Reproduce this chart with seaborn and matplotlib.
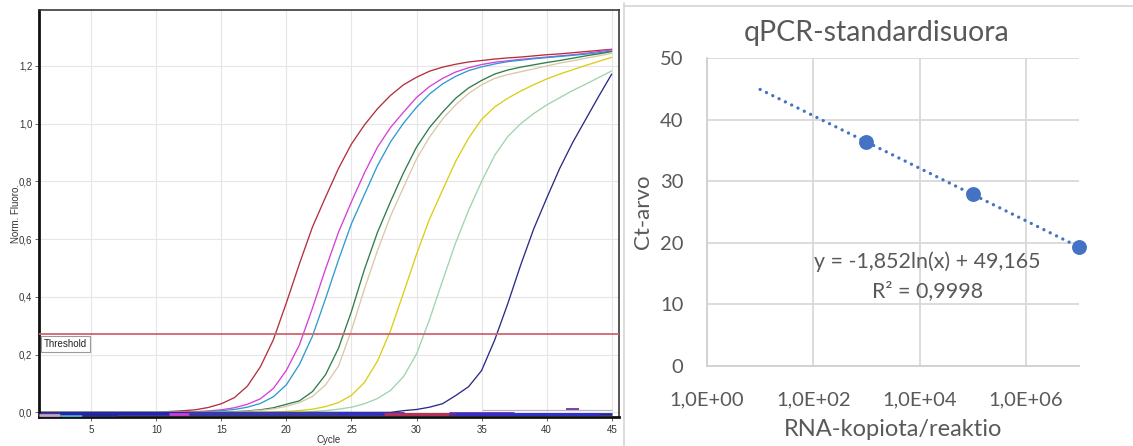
import numpy as np
import pandas as pd
import matplotlib
matplotlib.use("Agg")
import matplotlib.pyplot as plt
from matplotlib.lines import Line2D
import seaborn as sns

# ---------------- data: amplification curves (left) ----------------
cycles = list(range(1, 46))

red = [0.000, 0.000, 0.000, 0.000, 0.000, 0.000, 0.000, 0.000, 0.000, 0.000,
       0.003, 0.0055, 0.009, 0.017, 0.030, 0.051, 0.091, 0.158, 0.252, 0.380,
       0.515, 0.642, 0.745, 0.845, 0.930, 0.996, 1.052, 1.098, 1.135, 1.161,
       1.182, 1.196, 1.206, 1.214, 1.219, 1.224, 1.228, 1.231, 1.235, 1.239,
       1.242, 1.246, 1.250, 1.254, 1.258]
magenta = [0.000, 0.000, 0.000, 0.000, 0.000, 0.000, 0.000, 0.000, 0.000, 0.000,
           0.000, 0.000, 0.0025, 0.005, 0.009, 0.016, 0.028, 0.047, 0.083, 0.146,
           0.234, 0.361, 0.496, 0.624, 0.730, 0.830, 0.919, 0.987, 1.040, 1.091,
           1.129, 1.157, 1.179, 1.194, 1.205, 1.213, 1.218, 1.223, 1.227, 1.231,
           1.235, 1.239, 1.244, 1.250, 1.256]
cyan = [0.000, 0.000, 0.000, 0.000, 0.000, 0.000, 0.000, 0.000, 0.000, 0.000,
        0.000, 0.000, 0.000, 0.003, 0.006, 0.010, 0.018, 0.031, 0.054, 0.096,
        0.166, 0.264, 0.393, 0.528, 0.654, 0.755, 0.855, 0.937, 1.002, 1.057,
        1.103, 1.138, 1.164, 1.184, 1.197, 1.207, 1.215, 1.220, 1.225, 1.229,
        1.233, 1.237, 1.241, 1.246, 1.252]
dkgreen = [0.000, 0.000, 0.000, 0.000, 0.000, 0.000, 0.000, 0.000, 0.000, 0.000,
           0.000, 0.000, 0.000, 0.000, 0.000, 0.0025, 0.005, 0.009, 0.016, 0.028,
           0.040, 0.072, 0.130, 0.222, 0.350, 0.496, 0.624, 0.730, 0.830, 0.919,
           0.987, 1.040, 1.088, 1.124, 1.150, 1.172, 1.186, 1.196, 1.204, 1.212,
           1.219, 1.227, 1.235, 1.242, 1.250]
tan = [0.000, 0.000, 0.000, 0.000, 0.000, 0.000, 0.000, 0.000, 0.000, 0.000,
       0.000, 0.000, 0.000, 0.000, 0.000, 0.0015, 0.0036, 0.007, 0.012, 0.021,
       0.034, 0.055, 0.095, 0.160, 0.285, 0.428, 0.561, 0.680, 0.780, 0.878,
       0.954, 1.016, 1.065, 1.105, 1.135, 1.157, 1.170, 1.180, 1.190, 1.200,
       1.210, 1.218, 1.227, 1.235, 1.244]
yellow = [0.000, 0.000, 0.000, 0.000, 0.000, 0.000, 0.000, 0.000, 0.000, 0.000,
          0.000, 0.000, 0.000, 0.000, 0.000, 0.000, 0.000, 0.000, 0.0013, 0.0033,
          0.0064, 0.011, 0.020, 0.034, 0.059, 0.104, 0.178, 0.283, 0.414, 0.548,
          0.670, 0.770, 0.869, 0.950, 1.015, 1.058, 1.088, 1.113, 1.135, 1.155,
          1.172, 1.187, 1.202, 1.216, 1.230]
ltgreen = [0.000, 0.000, 0.000, 0.000, 0.000, 0.000, 0.000, 0.000, 0.000, 0.000,
           0.000, 0.000, 0.000, 0.000, 0.000, 0.000, 0.000, 0.000, 0.000, 0.000,
           0.000, 0.003, 0.006, 0.011, 0.018, 0.030, 0.048, 0.076, 0.124, 0.202,
           0.322, 0.456, 0.587, 0.700, 0.800, 0.890, 0.955, 1.000, 1.035, 1.065,
           1.090, 1.115, 1.137, 1.160, 1.183]
navy = [0.000, 0.000, 0.000, 0.000, 0.000, 0.000, 0.000, 0.000, 0.000, 0.000,
        0.000, 0.000, 0.000, 0.000, 0.000, 0.000, 0.000, 0.000, 0.000, 0.000,
        0.000, 0.000, 0.000, 0.000, 0.000, 0.000, 0.000, 0.000, 0.006, 0.010,
        0.018, 0.030, 0.058, 0.089, 0.145, 0.250, 0.375, 0.510, 0.635, 0.742,
        0.845, 0.935, 1.015, 1.095, 1.172]

curve_names = ["red", "magenta", "cyan", "dkgreen", "tan", "yellow", "ltgreen", "navy"]
curve_values = [red, magenta, cyan, dkgreen, tan, yellow, ltgreen, navy]
curve_colors = ["#b3303e", "#d83fd8", "#2e9bd0", "#2f7d4a", "#d9c8a6",
                "#dccd14", "#9fd4ac", "#2b2b86"]

# negative controls / baseline traces (flat segments near zero)
base_start = [1.0, 1.0, 2.6, 4.3, 2.6, 11.0, 12.5, 24.0, 27.5, 32.5, 33.0, 35.0, 41.5]
base_end = [45.0, 2.6, 4.3, 7.0, 12.5, 12.5, 27.0, 29.0, 32.5, 37.5, 44.0, 45.0, 42.5]
base_level = [-0.006, -0.010, -0.011, -0.011, -0.003, -0.006, -0.003, -0.003,
              -0.006, -0.002, -0.005, 0.009, 0.012]
base_color = ["#23238f", "#c9a2c9", "#45aebf", "#213070", "#2424b4", "#d040d0",
              "#3a3ab0", "#3030c0", "#c03050", "#7030a0", "#3030d0", "#b4b4c8",
              "#8040a0"]
base_width = [2.0, 2.0, 2.0, 2.0, 2.0, 2.0, 2.0, 2.0, 2.0, 2.0, 2.0, 0.9, 1.4]

threshold = 0.27
left_yticks = [0.0, 0.2, 0.4, 0.6, 0.8, 1.0, 1.2]
left_yticklabels = ["0,0", "0,2", "0,4", "0,6", "0,8", "1,0", "1,2"]
left_xticks = [5, 10, 15, 20, 25, 30, 35, 40, 45]

# ---------------- data: standard curve (right) ----------------
copies = [1e3, 1e5, 1e7]
ct_values = [36.35, 27.95, 19.3]
slope = -1.852
intercept = 49.165
r2 = 0.9998
trend_x = [10, 1e7]
right_xticks = [1, 1e2, 1e4, 1e6]
right_xticklabels = ["1,0E+00", "1,0E+02", "1,0E+04", "1,0E+06"]
right_yticks = [0, 10, 20, 30, 40, 50]

# ---------------- figure ----------------
sns.set_style("white")
plt.rcParams["font.family"] = ["Liberation Sans", "DejaVu Sans"]

W, H = 1133, 446
fig = plt.figure(figsize=(W / 100, H / 100), dpi=100)
ax1 = fig.add_axes([39.2 / W, 1 - 417 / H, (619 - 39.2) / W, 407 / H])
ax2 = fig.add_axes([707 / W, 1 - 366 / H, 372 / W, 308 / H])

# ---- left panel
rows = []
for name, vals in zip(curve_names, curve_values):
    for c, v in zip(cycles, vals):
        rows.append((name, c, v))
df = pd.DataFrame(rows, columns=["sample", "cycle", "fluor"])
sns.lineplot(data=df, x="cycle", y="fluor", hue="sample",
             palette=dict(zip(curve_names, curve_colors)),
             estimator=None, sort=False, legend=False, lw=0.95, ax=ax1)

ax1.hlines(base_level, base_start, base_end, colors=base_color,
           linewidths=base_width, zorder=3)
ax1.axhline(threshold, color="#cf6470", lw=1.3, zorder=4)
ax1.text(1.37, 0.238, "Threshold", fontsize=7, color="#222222", va="center",
         ha="left", zorder=5,
         bbox=dict(boxstyle="square,pad=0.3", fc="white", ec="#9a9a9a", lw=0.8))

ax1.set_xlim(1, 45.56)
ax1.set_ylim(-0.016, 1.394)
ax1.set_xticks(left_xticks)
ax1.set_yticks(left_yticks)
ax1.set_yticklabels(left_yticklabels)
ax1.grid(True, color="#e6e6e6", lw=0.8)
ax1.set_axisbelow(True)
ax1.tick_params(axis="both", labelsize=7, length=3, width=0.7, color="#666666",
                labelcolor="#333333", pad=2, direction="out")
ax1.tick_params(axis="x", bottom=True, pad=3)
ax1.tick_params(axis="y", left=True)
for s in ["left", "bottom"]:
    ax1.spines[s].set_color("#111111")
    ax1.spines[s].set_linewidth(2.0)
for s in ["top", "right"]:
    ax1.spines[s].set_color("#3a3a3a")
    ax1.spines[s].set_linewidth(1.2)
ax1.set_xlabel("Cycle", fontsize=7, color="#333333")
ax1.set_ylabel("Norm. Fluoro.", fontsize=7, color="#333333")
ax1.xaxis.set_label_coords(0.5, -0.045)
ax1.yaxis.set_label_coords(-0.032, 0.5)

# ---- right panel
rfont = ["Lato", "DejaVu Sans"]
blue = "#4472c4"
grey = "#595959"
trend_y = [slope * np.log(x) + intercept for x in trend_x]
sns.lineplot(x=trend_x, y=trend_y, ax=ax2, color=blue, lw=2.4,
             linestyle=(0, (0.01, 2.1)), dash_capstyle="round", zorder=3)
sns.scatterplot(x=copies, y=ct_values, ax=ax2, s=115, color=blue,
                edgecolor=blue, linewidth=0, zorder=4, clip_on=False)

ax2.set_xscale("log")
ax2.set_xlim(1, 1e7)
ax2.set_ylim(0, 50)
ax2.set_xticks(right_xticks)
ax2.set_xticklabels(right_xticklabels)
ax2.xaxis.set_minor_locator(matplotlib.ticker.NullLocator())
ax2.set_yticks(right_yticks)
ax2.grid(True, which="major", color="#d9d9d9", lw=1.3)
ax2.set_axisbelow(True)
for s in ["top", "right"]:
    ax2.spines[s].set_visible(False)
for s in ["left", "bottom"]:
    ax2.spines[s].set_color("#d0d0d0")
    ax2.spines[s].set_linewidth(1.3)
ax2.tick_params(axis="both", length=0, labelsize=14.5, labelcolor=grey)
ax2.tick_params(axis="y", pad=17)
ax2.tick_params(axis="x", pad=18)
for lab in ax2.get_xticklabels() + ax2.get_yticklabels():
    lab.set_family(rfont)
ax2.set_xlabel("RNA-kopiota/reaktio", fontsize=17, color=grey, family=rfont)
ax2.set_ylabel("Ct-arvo", fontsize=16, color=grey, family=rfont)
ax2.xaxis.set_label_coords(0.5, -0.172)
ax2.yaxis.set_label_coords(-0.145, 0.5)

ax2.text(0.591, 0.338, f"y = {slope:.3f}ln(x) + {intercept:.3f}".replace(".", ","),
         transform=ax2.transAxes, ha="center", va="center", fontsize=15.4,
         color=grey, family=rfont)
ax2.text(0.594, 0.2435, f"R² = {r2:.4f}".replace(".", ","),
         transform=ax2.transAxes, ha="center", va="center", fontsize=15.4,
         color=grey, family=rfont)

fig.text(877 / W, 1 - 33 / H, "qPCR-standardisuora", ha="center", va="center",
         fontsize=20.5, color=grey, family=rfont)

# panel separator lines
fig.add_artist(Line2D([624 / W, 624 / W], [0, 1 - 3 / H], color="#d4d4d4", lw=1.2))
fig.add_artist(Line2D([624 / W, 1], [1 - 6 / H, 1 - 6 / H], color="#d4d4d4", lw=1.2))

fig.savefig("out.png", dpi=100)
